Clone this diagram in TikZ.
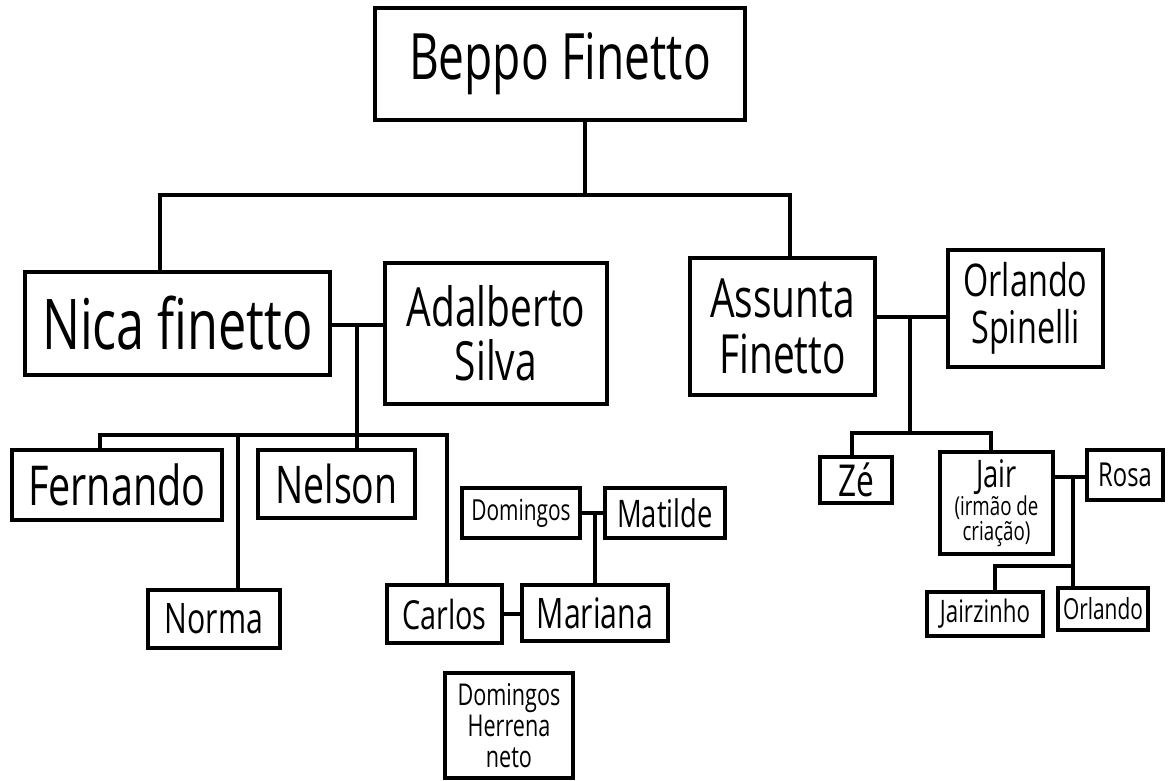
\documentclass[tikz,border=0pt]{standalone}
\usepackage{fontspec}
\setmainfont{Open Sans}
\usepackage{graphicx}
\usetikzlibrary{calc}
% condensed lettering for the names
\newcommand\hw[1]{\scalebox{0.72}[1]{#1}}
\newcommand\fsz[2]{\fontsize{#1}{#2}\selectfont}
\begin{document}
\begin{tikzpicture}[x=1pt,y=-1pt,
  person/.style={draw, line width=3.2pt, inner sep=0pt, align=center, fill=white},
  link/.style={line width=3.2pt, line cap=rect}]
\useasboundingbox[fill=white] (0,0) rectangle (1175,780);

% --- people ---
\node[person, minimum width=370, minimum height=112, font=\fsz{64}{64}] (beppo) at (560,64) {\hw{Beppo Finetto}};

\node[person, minimum width=305, minimum height=103, font=\fsz{70}{70}] (nica) at (177.5,323.5) {\hw{Nica finetto}};
\node[person, minimum width=222, minimum height=141, font=\fsz{54}{54}] (adal) at (496,333.5) {\hw{Adalberto}\\\hw{Silva}};

\node[person, minimum width=185, minimum height=137, font=\fsz{54}{56}] (assunta) at (782.5,326.5) {\hw{Assunta}\\\hw{Finetto}};
\node[person, minimum width=155, minimum height=117, font=\fsz{45}{47}] (orl) at (1025.5,308.5) {\hw{Orlando}\\\hw{Spinelli}};

\node[person, minimum width=210, minimum height=70, font=\fsz{55}{55}] (fern) at (117,485) {\hw{Fernando}};
\node[person, minimum width=157, minimum height=68, font=\fsz{52}{52}] (nelson) at (336.5,484) {\hw{Nelson}};
\node[person, minimum width=132, minimum height=58, font=\fsz{42}{42}] (norma) at (214,619) {\hw{Norma}};
\node[person, minimum width=115, minimum height=58, font=\fsz{40}{40}] (carlos) at (444.5,614) {\hw{Carlos}};

\node[person, minimum width=118, minimum height=50, font=\fsz{29}{29}] (domA) at (521,513) {\hw{Domingos}};
\node[person, minimum width=120, minimum height=50, font=\fsz{38}{38}] (matilde) at (665,513) {\hw{Matilde}};
\node[person, minimum width=146, minimum height=56, font=\fsz{42}{42}] (mariana) at (595,613) {\hw{Mariana}};
\node[person, minimum width=128, minimum height=105, font=\fsz{30}{31}] (neto) at (509,725.5) {\hw{Domingos}\\\hw{Herrena}\\\hw{neto}};

\node[person, minimum width=72, minimum height=46, font=\fsz{44}{44}] (ze) at (856,480) {\hw{Zé}};
\node[person, minimum width=113, minimum height=102, font=\fsz{26}{25}] (jair) at (996.5,503) {{\fsz{38}{38}\hw{Jair}}\\\hw{(irmão de}\\\hw{criação)}};
\node[person, minimum width=76, minimum height=50, font=\fsz{33}{33}] (rosa) at (1125,475) {\hw{Rosa}};
\node[person, minimum width=116, minimum height=44, font=\fsz{31}{31}] (jairz) at (985,614) {\hw{Jairzinho}};
\node[person, minimum width=90, minimum height=42, font=\fsz{29}{29}] (orlando) at (1103,609) {\hw{Orlando}};

% --- first generation ---
\coordinate (top) at (585,195);
\coordinate (nd) at (160,195);
\coordinate (ad) at (790,195);
\draw[link] (beppo.south -| top) -- (top);
\draw[link] (nica.north -| nd) -- (nd) -- (ad) -- (assunta.north -| ad);

% --- Nica and Adalberto ---
\coordinate (m1) at (357,325);
\coordinate (k1) at (357,435);
\coordinate (fd) at (100,435);
\coordinate (nod) at (238,435);
\coordinate (cd) at (447,435);
\draw[link] (nica.east |- m1) -- (adal.west |- m1);
\draw[link] (m1) -- (k1) -- (nelson.north -| k1);
\draw[link] (fern.north -| fd) -- (fd) -- (cd) -- (carlos.north -| cd);
\draw[link] (nod) -- (norma.north -| nod);

% --- Domingos and Matilde ---
\coordinate (m4) at (595,513);
\draw[link] (domA.east |- m4) -- (matilde.west |- m4);
\draw[link] (m4) -- (mariana.north -| m4);
\draw[link] (carlos.east) -- (mariana.west |- carlos.east);

% --- Assunta and Orlando ---
\coordinate (m2) at (910,317);
\coordinate (k2) at (910,433);
\coordinate (zd) at (852,433);
\coordinate (jd) at (991,433);
\draw[link] (assunta.east |- m2) -- (orl.west |- m2);
\draw[link] (m2) -- (k2);
\draw[link] (ze.north -| zd) -- (zd) -- (jd) -- (jair.north -| jd);

% --- Jair and Rosa ---
\coordinate (m3) at (1073,477);
\coordinate (jzd) at (995,566);
\draw[link] (jair.east |- m3) -- (rosa.west |- m3);
\draw[link] (m3) -- (orlando.north -| m3);
\draw[link] (jairz.north -| jzd) -- (jzd) -- (m3 |- jzd);
\end{tikzpicture}
\end{document}
